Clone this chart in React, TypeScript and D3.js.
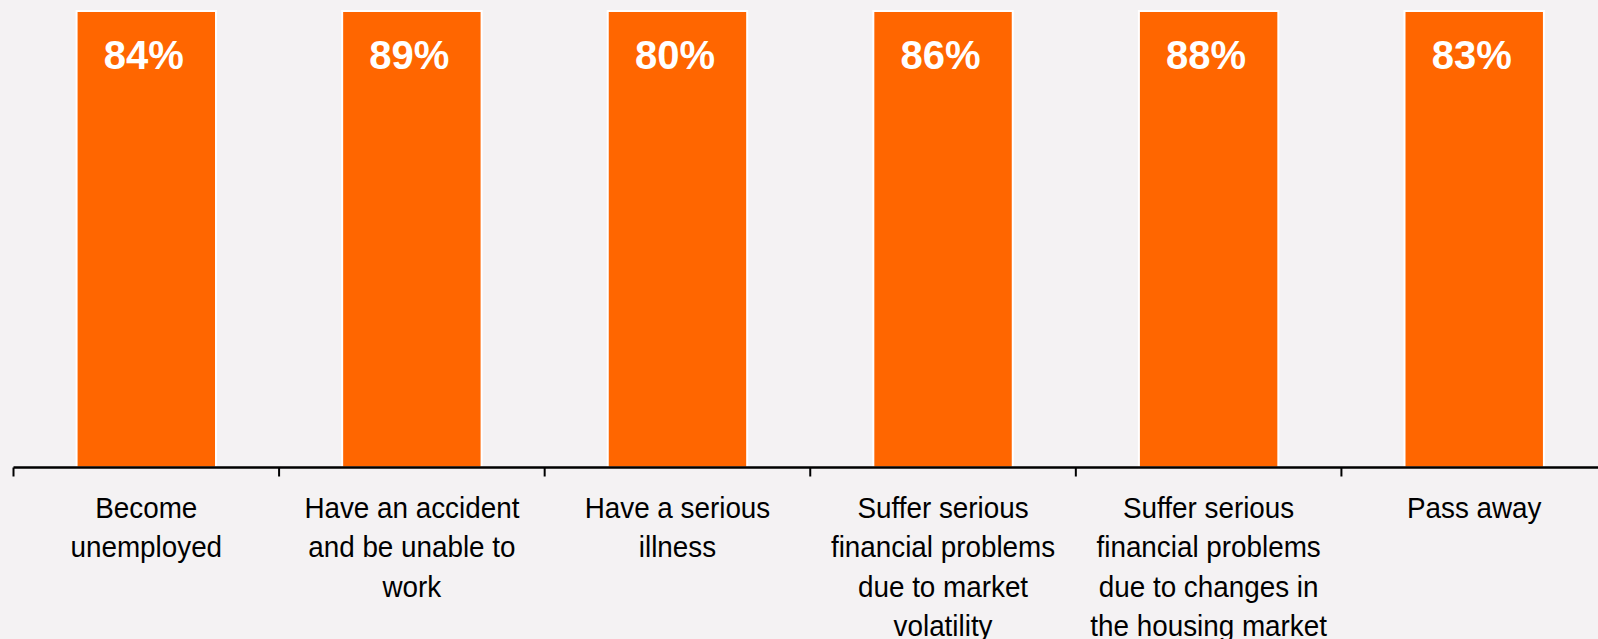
import React from "react";
import * as d3 from "d3";

const categories = [
  "Become unemployed",
  "Have an accident and be unable to work",
  "Have a serious illness",
  "Suffer serious financial problems due to market volatility",
  "Suffer serious financial problems due to changes in the housing market",
  "Pass away",
];
const categoryLines = [
  ["Become", "unemployed"],
  ["Have an accident", "and be unable to", "work"],
  ["Have a serious", "illness"],
  ["Suffer serious", "financial problems", "due to market", "volatility"],
  ["Suffer serious", "financial problems", "due to changes in", "the housing market"],
  ["Pass away"],
];
const values = [0.84, 0.89, 0.8, 0.86, 0.88, 0.83];

const W = 1598;
const H = 639;
const BG = "#f4f2f3";
const ORANGE = "#ff6600";
const FONT = "'Liberation Sans', Arial, sans-serif";

export default function App() {
  const axisY = 467.5;
  const x = d3
    .scaleBand<string>()
    .domain(categories)
    .range([13.5, 1607])
    .paddingInner(0.475)
    .paddingOuter(0.2375);
  const y = d3.scaleLinear().domain([0, 0.78]).range([axisY, 11]).clamp(true);
  const step = x.step();
  const half = (step * 0.475) / 2;
  const tickXs = categories.map((c) => (x(c) as number) - half);

  return (
    <div style={{ position: "fixed", left: 0, top: 0 }}>
      <svg width={W} height={H} style={{ display: "block" }}>
        <rect x={0} y={0} width={W} height={H} fill={BG} />
        {categories.map((c, i) => (
          <rect
            key={c}
            x={x(c)}
            y={y(values[i])}
            width={x.bandwidth()}
            height={axisY - y(values[i])}
            fill={ORANGE}
            stroke="#ffffff"
            strokeWidth={2}
          />
        ))}
        {categories.map((c, i) => (
          <text
            key={c + "v"}
            x={(x(c) as number) + x.bandwidth() / 2 - 2.5}
            y={69}
            textAnchor="middle"
            fill="#ffffff"
            fontFamily={FONT}
            fontWeight="bold"
            fontSize={40}
          >
            {d3.format(".0%")(values[i])}
          </text>
        ))}
        <line x1={13.5} x2={W} y1={axisY} y2={axisY} stroke="#000" strokeWidth={2.5} />
        {tickXs.map((tx, i) => (
          <line key={i} x1={tx} x2={tx} y1={axisY} y2={axisY + 9} stroke="#000" strokeWidth={2} />
        ))}
        {categories.map((c, i) => {
          const cx = (x(c) as number) + x.bandwidth() / 2;
          return (
            <text
              key={c + "l"}
              textAnchor="middle"
              fontFamily={FONT}
              fontSize={29}
              fill="#000"
              transform={`translate(${cx},0) scale(0.96,1)`}
            >
              {categoryLines[i].map((ln, j) => (
                <tspan key={j} x={0} y={518 + j * 39.5}>
                  {ln}
                </tspan>
              ))}
            </text>
          );
        })}
      </svg>
    </div>
  );
}
